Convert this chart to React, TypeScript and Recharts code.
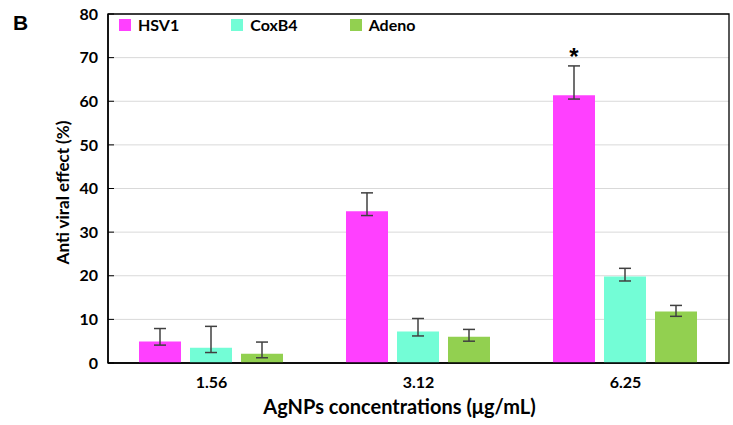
import * as React from "react";
import {
  BarChart,
  Bar,
  XAxis,
  YAxis,
  CartesianGrid,
  ErrorBar,
  ReferenceArea,
} from "recharts";

// AgNPs concentrations (µg/mL)
const concentrations = ["1.56", "3.12", "6.25"];

// Anti viral effect (%) per virus
const hsv1Values = [4.9, 34.8, 61.4];
const hsv1ErrLow = [0.8, 1.0, 0.9];
const hsv1ErrHigh = [3.0, 4.2, 6.7];

const coxb4Values = [3.5, 7.2, 19.8];
const coxb4ErrLow = [1.1, 1.0, 1.0];
const coxb4ErrHigh = [4.9, 3.0, 1.9];

const adenoValues = [2.1, 6.0, 11.8];
const adenoErrLow = [0.9, 1.0, 1.1];
const adenoErrHigh = [2.7, 1.7, 1.4];

// significance marks over the HSV1 bars
const hsv1Marks = ["", "", "*"];

const yTicks = [0, 10, 20, 30, 40, 50, 60, 70, 80];

const series = [
  { key: "HSV1", name: "HSV1", color: "#FF40FF" },
  { key: "CoxB4", name: "CoxB4", color: "#73FDD6" },
  { key: "Adeno", name: "Adeno", color: "#92D050" },
];

const data = concentrations.map((c, i) => ({
  conc: c,
  HSV1: hsv1Values[i],
  HSV1Err: [hsv1ErrLow[i], hsv1ErrHigh[i]],
  CoxB4: coxb4Values[i],
  CoxB4Err: [coxb4ErrLow[i], coxb4ErrHigh[i]],
  Adeno: adenoValues[i],
  AdenoErr: [adenoErrLow[i], adenoErrHigh[i]],
}));

const FONT = "Lato, 'Open Sans', sans-serif";

// legend sits inside the plot frame, drawn as plain html over the chart
function LegendBox() {
  return (
    <div
      style={{
        position: "absolute",
        left: 119,
        top: 16,
        display: "flex",
        gap: 52,
        fontFamily: FONT,
        fontWeight: 700,
        fontSize: 16,
        lineHeight: "18px",
      }}
    >
      {series.map((s) => (
        <div key={s.key} style={{ display: "flex", alignItems: "center", gap: 7 }}>
          <div style={{ width: 12, height: 12, background: s.color }} />
          <span style={{ color: "#000" }}>{s.name}</span>
        </div>
      ))}
    </div>
  );
}

// eslint-disable-next-line @typescript-eslint/no-explicit-any
function StarLabel(props: any) {
  const { x, y, width, height, value, index } = props;
  const mark = hsv1Marks[index];
  if (!mark || !value) return null;
  const pxPerUnit = height / value;
  const top = y - hsv1ErrHigh[index] * pxPerUnit;
  return (
    <text
      x={x + width / 2}
      y={top - 1}
      textAnchor="middle"
      fontFamily="Arial, sans-serif"
      fontWeight={700}
      fontSize={24}
      fill="#000"
    >
      {mark}
    </text>
  );
}

// eslint-disable-next-line @typescript-eslint/no-explicit-any
function YTitle(props: any) {
  const { viewBox } = props;
  const cx = viewBox.x + 62;
  const cy = viewBox.y + viewBox.height / 2 + 4;
  return (
    <text
      x={cx}
      y={cy}
      transform={`rotate(-90, ${cx}, ${cy})`}
      textAnchor="middle"
      dominantBaseline="central"
      fontFamily={FONT}
      fontWeight={700}
      fontSize={17}
      fill="#000"
    >
      Anti viral effect (%)
    </text>
  );
}

export default function App() {
  return (
    <div style={{ position: "absolute", left: 0, top: 0, width: 733, height: 425, background: "#fff" }}>
      <div
        style={{
          position: "absolute",
          left: 13,
          top: 11,
          fontFamily: "Arial, 'Liberation Sans', sans-serif",
          fontWeight: 700,
          fontSize: 21,
          lineHeight: "24px",
        }}
      >
        B
      </div>
      <BarChart
        width={733}
        height={425}
        data={data}
        margin={{ top: 14, right: 4, bottom: 0, left: 0 }}
        barCategoryGap={31}
        barGap={9}
      >
        <CartesianGrid horizontal vertical={false} stroke="#d9d9d9" />
        <ReferenceArea y1={0} y2={80} fill="none" stroke="#000" strokeWidth={1.3} ifOverflow="visible" />
        <XAxis
          dataKey="conc"
          height={62}
          tickLine={false}
          axisLine={{ stroke: "#000", strokeWidth: 1.5 }}
          tickSize={6}
          tickMargin={8}
          tick={{ fill: "#000", fontFamily: FONT, fontWeight: 700, fontSize: 16 }}
          label={{
            value: "AgNPs concentrations (μg/mL)",
            position: "insideBottom",
            offset: 11,
            dx: -19,
            style: { fill: "#000", fontFamily: FONT, fontWeight: 700, fontSize: 20 },
          }}
        />
        <YAxis
          width={108}
          domain={[0, 80]}
          ticks={yTicks}
          interval={0}
          tickSize={-6}
          tickMargin={16}
          tickLine={{ stroke: "#000" }}
          axisLine={{ stroke: "#000", strokeWidth: 1.5 }}
          tick={{ fill: "#000", fontFamily: FONT, fontWeight: 700, fontSize: 16 }}
          label={<YTitle />}
        />
        {series.map((s) => (
          <Bar
            key={s.key}
            dataKey={s.key}
            name={s.name}
            fill={s.color}
            isAnimationActive={false}
            label={s.key === "HSV1" ? <StarLabel /> : undefined}
          >
            <ErrorBar
              dataKey={`${s.key}Err`}
              direction="y"
              width={6}
              stroke="#404040"
              strokeWidth={1.5}
              isAnimationActive={false}
            />
          </Bar>
        ))}
      </BarChart>
      <LegendBox />
    </div>
  );
}
